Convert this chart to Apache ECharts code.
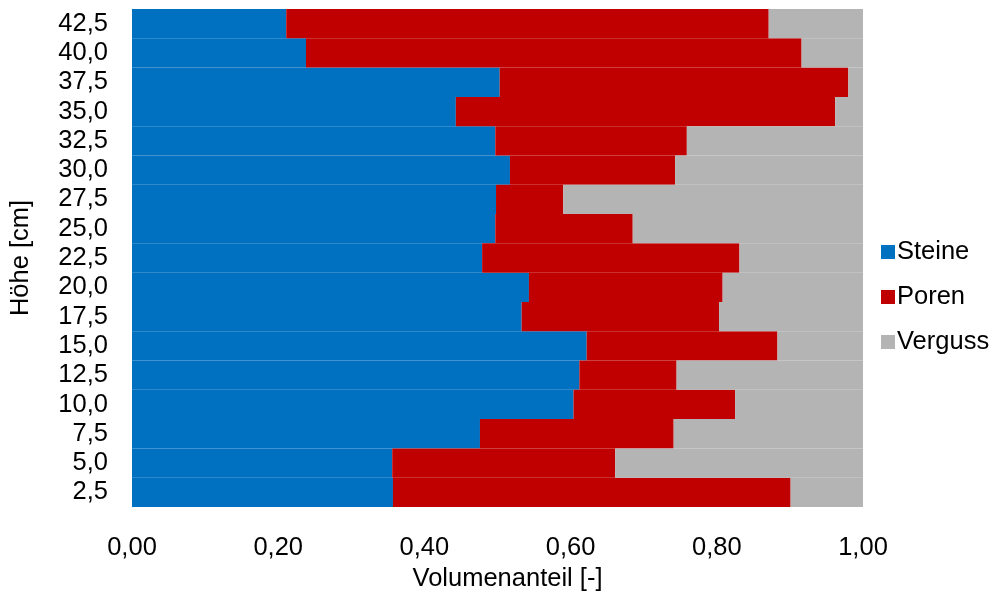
<!DOCTYPE html>
<html>
<head>
<meta charset="utf-8">
<script src="https://cdn.jsdelivr.net/npm/echarts@6/dist/echarts.min.js"></script>
<style>html,body{margin:0;padding:0;background:#fff;}#c{width:999px;height:597px;}</style>
</head>
<body>
<div id="c"></div>
<script>
// Categories (Höhe [cm]) bottom to top
const categories = ['2,5','5,0','7,5','10,0','12,5','15,0','17,5','20,0','22,5','25,0','27,5','30,0','32,5','35,0','37,5','40,0','42,5'];
const steine  = [0.357,0.356,0.476,0.604,0.612,0.622,0.533,0.543,0.479,0.497,0.498,0.517,0.497,0.443,0.503,0.238,0.211];
const poren   = [0.544,0.305,0.265,0.221,0.133,0.261,0.270,0.265,0.352,0.188,0.092,0.226,0.262,0.519,0.477,0.678,0.660];
const verguss = [0.099,0.339,0.259,0.175,0.255,0.117,0.197,0.192,0.169,0.315,0.410,0.257,0.241,0.038,0.020,0.084,0.129];
const seriesNames = ['Steine','Poren','Verguss'];
const xTicks = [0,0.2,0.4,0.6,0.8,1.0];

const FONT = '"Liberation Sans", Arial, sans-serif';
const FS = 25.5;
const colors = ['#0070C0','#C00000','#B4B4B4'];
const chart = echarts.init(document.getElementById('c'), null, {renderer:'canvas'});
const mk = (name, data, i) => ({
  name, type:'bar', stack:'total', data,
  barCategoryGap:'0%',
  itemStyle:{color:colors[i], borderColor:colors[i], borderWidth:1.5},
  emphasis:{disabled:true}
});
chart.setOption({
  animation:false,
  textStyle:{fontFamily:FONT},
  grid:{left:131, right:136, top:9, bottom:90, containLabel:false},
  legend:{
    orient:'vertical', left:876, top:234,
    itemWidth:14, itemHeight:14, itemGap:19,
    icon:'rect',
    itemStyle:{borderWidth:0},
    textStyle:{fontSize:FS, color:'#000', fontFamily:FONT, padding:[0,0,0,-3]},
    data:seriesNames
  },
  xAxis:{
    type:'value', min:0, max:1, interval:0.2,
    axisLine:{show:false}, axisTick:{show:false}, splitLine:{show:false},
    axisLabel:{fontSize:FS, color:'#000', margin:28, fontFamily:FONT,
      formatter:v=>v.toFixed(2).replace('.',',')},
    name:'Volumenanteil [-]', nameLocation:'middle', nameGap:59,
    nameTextStyle:{fontSize:FS, color:'#000', fontFamily:FONT, padding:[0,0,0,20]}
  },
  yAxis:{
    type:'category', data:categories,
    axisLine:{show:true, lineStyle:{color:'#D9D9D9', width:1}},
    axisTick:{show:false},
    axisLabel:{fontSize:FS, color:'#000', margin:24, fontFamily:FONT, interval:0},
    name:'Höhe [cm]', nameLocation:'middle', nameGap:98, nameRotate:90,
    nameTextStyle:{fontSize:FS, color:'#000', fontFamily:FONT}
  },
  series:[mk('Steine',steine,0), mk('Poren',poren,1), mk('Verguss',verguss,2)]
});
</script>
</body>
</html>
